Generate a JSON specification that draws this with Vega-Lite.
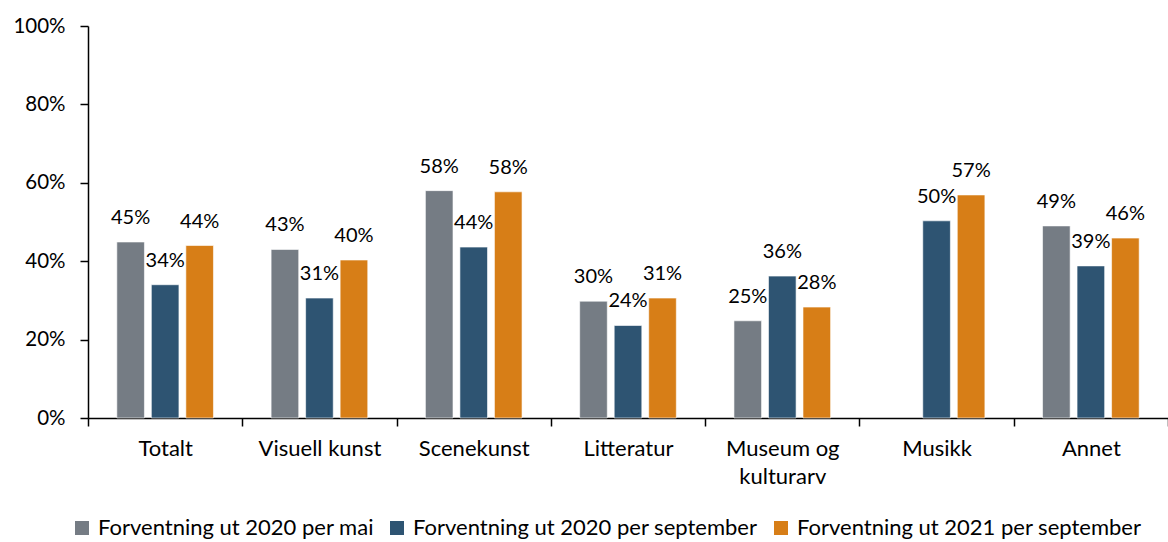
{
  "$schema": "https://vega.github.io/schema/vega-lite/v6.json",
  "autosize": {"type": "none"},
  "padding": {"left": 88, "top": 26, "right": 0, "bottom": 124},
  "width": 1080,
  "height": 392,
  "background": "white",
  "config": {
    "font": "Lato",
    "view": {"stroke": null},
    "axis": {"labelFont": "Lato", "labelColor": "#000000", "labelFontSize": 20, "domainColor": "#000000", "tickColor": "#000000", "domainWidth": 1.5, "tickWidth": 1.5, "tickSize": 8, "grid": false, "title": null}
  },
  "data": {
    "values": [
      {"kategori": "Totalt", "serie": "Forventning ut 2020 per mai", "verdi": 0.449},
      {"kategori": "Totalt", "serie": "Forventning ut 2020 per september", "verdi": 0.340},
      {"kategori": "Totalt", "serie": "Forventning ut 2021 per september", "verdi": 0.440},
      {"kategori": "Visuell kunst", "serie": "Forventning ut 2020 per mai", "verdi": 0.430},
      {"kategori": "Visuell kunst", "serie": "Forventning ut 2020 per september", "verdi": 0.306},
      {"kategori": "Visuell kunst", "serie": "Forventning ut 2021 per september", "verdi": 0.403},
      {"kategori": "Scenekunst", "serie": "Forventning ut 2020 per mai", "verdi": 0.580},
      {"kategori": "Scenekunst", "serie": "Forventning ut 2020 per september", "verdi": 0.436},
      {"kategori": "Scenekunst", "serie": "Forventning ut 2021 per september", "verdi": 0.577},
      {"kategori": "Litteratur", "serie": "Forventning ut 2020 per mai", "verdi": 0.298},
      {"kategori": "Litteratur", "serie": "Forventning ut 2020 per september", "verdi": 0.236},
      {"kategori": "Litteratur", "serie": "Forventning ut 2021 per september", "verdi": 0.306},
      {"kategori": "Museum og kulturarv", "serie": "Forventning ut 2020 per mai", "verdi": 0.248},
      {"kategori": "Museum og kulturarv", "serie": "Forventning ut 2020 per september", "verdi": 0.362},
      {"kategori": "Museum og kulturarv", "serie": "Forventning ut 2021 per september", "verdi": 0.283},
      {"kategori": "Musikk", "serie": "Forventning ut 2020 per september", "verdi": 0.503},
      {"kategori": "Musikk", "serie": "Forventning ut 2021 per september", "verdi": 0.569},
      {"kategori": "Annet", "serie": "Forventning ut 2020 per mai", "verdi": 0.490},
      {"kategori": "Annet", "serie": "Forventning ut 2020 per september", "verdi": 0.388},
      {"kategori": "Annet", "serie": "Forventning ut 2021 per september", "verdi": 0.459}
    ]
  },
  "encoding": {
    "x": {
      "field": "kategori", "type": "nominal",
      "sort": ["Totalt", "Visuell kunst", "Scenekunst", "Litteratur", "Museum og kulturarv", "Musikk", "Annet"],
      "scale": {"paddingInner": 0, "paddingOuter": 0},
      "axis": {"labelAngle": 0, "tickBand": "extent", "labelPadding": 12, "labelLineHeight": 28, "labelBaseline": "top", "labelFontSize": 22,
        "labelExpr": "datum.label == 'Museum og kulturarv' ? ['Museum og', 'kulturarv'] : datum.label"}
    },
    "xOffset": {
      "field": "serie", "type": "nominal",
      "sort": ["Forventning ut 2020 per mai", "Forventning ut 2020 per september", "Forventning ut 2021 per september"],
      "scale": {"paddingInner": 0.2, "paddingOuter": 0.835}
    },
    "y": {
      "field": "verdi", "type": "quantitative",
      "scale": {"domain": [0, 1]},
      "axis": {"values": [0, 0.2, 0.4, 0.6, 0.8, 1], "format": ".0%", "labelPadding": 15, "labelFontSize": 20.5}
    }
  },
  "layer": [
    {
      "mark": {"type": "bar", "stroke": "#ffffff", "strokeWidth": 0.6},
      "encoding": {
        "color": {
          "field": "serie", "type": "nominal",
          "sort": ["Forventning ut 2020 per mai", "Forventning ut 2020 per september", "Forventning ut 2021 per september"],
          "scale": {"domain": ["Forventning ut 2020 per mai", "Forventning ut 2020 per september", "Forventning ut 2021 per september"], "range": ["#757C84", "#2E5472", "#D77E17"]},
          "legend": {"orient": "none", "legendX": -17, "legendY": 491, "title": null, "direction": "horizontal", "symbolType": "square", "symbolSize": 196, "symbolStrokeWidth": 0, "labelFontSize": 22, "labelLimit": 0, "labelColor": "#000000", "labelFont": "Lato", "columnPadding": 12, "labelOffset": 5}
        }
      }
    },
    {
      "mark": {"type": "text", "baseline": "alphabetic", "dy": -18, "fontSize": 20, "color": "#000000", "font": "Lato"},
      "encoding": {
        "text": {"field": "verdi", "type": "quantitative", "format": ".0%"}
      }
    }
  ]
}
